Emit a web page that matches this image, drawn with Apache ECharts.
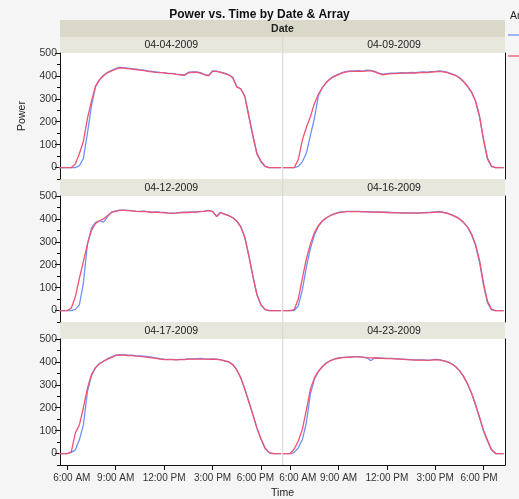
<!DOCTYPE html>
<html style="height: 100%">
<head>
    <meta charset="utf-8">
</head>
<body style="height: 100%; margin: 0; background: #f5f5f5">
<div id="container" style="width: 519px; height: 499px"></div>
<script type="text/javascript" src="https://cdn.jsdelivr.net/npm/echarts@6/dist/echarts.min.js"></script>
<script type="text/javascript">
// sample times (every 15 min)
var times = ['5:30','5:45','6:00','6:15','6:30','6:45','7:00','7:15','7:30','7:45',
    '8:00','8:15','8:30','8:45','9:00','9:15','9:30','9:45','10:00','10:15',
    '10:30','10:45','11:00','11:15','11:30','11:45','12:00','12:15','12:30','12:45',
    '13:00','13:15','13:30','13:45','14:00','14:15','14:30','14:45','15:00','15:15',
    '15:30','15:45','16:00','16:15','16:30','16:45','17:00','17:15','17:30','17:45',
    '18:00','18:15','18:30','18:45','19:00','19:15'];

var dates = ['04-04-2009', '04-09-2009', '04-12-2009', '04-16-2009', '04-17-2009', '04-23-2009'];

// power per date, blue array (b) and red array (r)
var d1b = [0,0,0,0, 0,8,40,150,270,352, 384,403,416,424,432,437, 436,434,432,430,427,425, 422,420,417,415,414,411, 411,408,406,404,416,418, 418,414,407,402,422,421, 417,412,406,394,354,344, 312,222,135,58,24,4, 0,0,0,0];
var d1r = [0,0,0,0, 15,60,115,215,290,355, 383,402,414,422,430,435, 434,432,430,428,425,423, 420,418,415,414,413,410, 410,407,405,402,413,415, 416,412,405,400,420,420, 415,410,404,392,352,343, 310,225,140,62,28,6, 0,0,0,0];
var d2b = [0,0,0,0, 5,25,62,140,215,315, 350,373,389,400,408,415, 420,422,422,423,421,425, 424,420,412,408,410,412, 412,413,414,413,415,414, 416,417,416,419,420,422, 420,416,410,404,393,377, 356,330,290,222,118,36, 4,0,0,0];
var d2r = [0,0,0,0, 35,120,175,222,280,320, 350,372,388,398,406,413, 418,420,420,421,420,422, 422,418,410,405,408,410, 410,411,412,412,413,412, 414,415,414,417,418,420, 418,414,408,402,392,376, 355,330,292,225,125,40, 5,0,0,0];
var d3b = [0,0,0,0, 5,25,120,290,360,385, 392,386,410,430,435,438, 438,437,436,434,433,434, 432,429,431,429,428,426, 425,426,428,429,429,431, 431,433,434,437,433,412, 429,421,415,406,391,366, 318,238,148,68,24,4, 0,0,0,0];
var d3r = [0,0,0,10, 60,140,215,290,350,380, 392,400,415,428,433,437, 437,436,435,433,432,433, 431,428,430,428,427,425, 424,425,427,428,428,430, 430,432,433,436,432,410, 428,420,414,405,390,365, 320,240,150,70,25,5, 0,0,0,0];
var d4b = [0,0,0,0, 20,90,190,270,330,368, 390,404,415,423,428,431, 433,433,433,433,432,432, 431,431,431,430,429,428, 427,427,426,426,426,426, 426,427,428,429,431,432, 429,425,419,411,401,386, 364,332,285,212,110,33, 3,0,0,0];
var d4r = [0,0,0,5, 50,140,225,290,340,372, 392,405,415,422,427,430, 432,432,432,432,431,431, 430,430,430,429,428,427, 426,426,425,425,425,425, 425,426,427,428,430,431, 428,424,418,410,400,385, 365,335,290,220,120,40, 5,0,0,0];
var d5b = [0,0,0,5, 15,60,125,270,340,375, 393,404,414,422,430,432, 431,430,429,427,426,425, 423,421,417,414,412,411, 411,410,411,411,413,413, 414,415,413,412,413,412, 410,405,401,389,366,331, 282,226,170,110,62,22, 4,0,0,0];
var d5r = [0,0,0,7, 90,125,200,285,345,375, 392,403,412,420,428,430, 430,428,427,425,424,422, 420,418,415,412,410,410, 410,409,410,410,412,412, 412,412,412,411,412,411, 409,404,400,388,365,330, 280,225,170,112,65,25, 5,0,0,0];
var d6b = [0,0,0,5, 25,60,135,260,325,358, 380,396,406,413,418,420, 421,422,423,423,421,419, 405,418,417,416,415,415, 414,413,412,411,410,409, 409,409,408,409,411,410, 406,401,393,381,363,338, 305,264,212,156,98,54, 15,0,0,0];
var d6r = [0,0,0,20, 55,105,190,280,330,360, 380,395,405,412,416,419, 420,421,422,422,420,418, 418,417,416,415,414,414, 413,412,411,410,409,408, 408,408,407,408,410,409, 405,400,392,380,362,338, 305,265,215,160,102,58, 18,0,0,0];

var timeTicks = [360, 540, 720, 900, 1080];   // minutes
var powerTicks = [0, 100, 200, 300, 400, 500];
var powerMinor = [-50, 50, 150, 250, 350, 450];

var panels = [[d1b, d1r], [d2b, d2r], [d3b, d3r], [d4b, d4r], [d5b, d5r], [d6b, d6r]];
var colors = ['#6f92f6', '#ef5273'];
var font = 'Liberation Sans, Arial, sans-serif';

var colLeft = [60, 283], colWidth = [222.5, 222];
var rowTop = [53, 196, 339], rowH = 126;

function toMin(s) {
    var p = s.split(':');
    return (+p[0]) * 60 + (+p[1]);
}
function fmtTime(v) {
    var h = Math.floor(v / 60), m = Math.round(v % 60);
    var ap = h < 12 ? 'AM' : 'PM';
    var hh = h % 12;
    if (hh === 0) hh = 12;
    return hh + ':' + (m < 10 ? '0' : '') + m + ' ' + ap;
}
// end labels get nudged inward like the original
function labelFor(col) {
    return function (v) {
        var t = fmtTime(v);
        if (v === timeTicks[0]) return '{' + (col === 0 ? 'l0' : 'l1') + '|' + t + '}';
        if (v === timeTicks[timeTicks.length - 1]) return '{' + (col === 0 ? 'r0' : 'r1') + '|' + t + '}';
        return t;
    };
}
var tickRich = {
    l0: {padding: [0, 0, 0, 9], fontSize: 10, fontFamily: font, color: '#333'},
    l1: {padding: [0, 0, 0, 15], fontSize: 10, fontFamily: font, color: '#333'},
    r0: {padding: [0, 11, 0, 0], fontSize: 10, fontFamily: font, color: '#333'},
    r1: {padding: [0, 9, 0, 0], fontSize: 10, fontFamily: font, color: '#333'}
};

var dom = document.getElementById('container');
var myChart = echarts.init(dom);

var grids = [], xAxes = [], yAxes = [], series = [], minorAxes = [];
var graphic = [];

for (var i = 0; i < 6; i++) {
    var row = Math.floor(i / 2), col = i % 2;
    grids.push({
        left: colLeft[col], top: rowTop[row], width: colWidth[col], height: rowH,
        show: true, backgroundColor: '#fff', borderWidth: 0
    });
    xAxes.push({
        type: 'value', gridIndex: i, min: 333, max: 1160,
        show: row === 2,
        axisLine: {onZero: false, lineStyle: {color: '#111'}},
        axisTick: {customValues: timeTicks, length: 5, lineStyle: {color: '#111'}},
        axisLabel: {customValues: timeTicks, formatter: labelFor(col), rich: tickRich,
            fontSize: 10, color: '#333', margin: 8, fontFamily: font},
        splitLine: {show: false}
    });
    yAxes.push({
        type: 'value', gridIndex: i, min: -50, max: 500,
        position: col === 0 ? 'left' : 'right',
        name: i === 0 ? 'Power' : '',
        nameLocation: 'middle', nameGap: 32,
        nameTextStyle: {fontSize: 10.5, color: '#222', fontFamily: font},
        axisLine: {show: true, onZero: false, lineStyle: {color: '#111'}},
        axisTick: {show: col === 0, customValues: powerTicks, length: 5, lineStyle: {color: '#111'}},
        axisLabel: {show: col === 0, customValues: powerTicks, fontSize: 10.5, color: '#333', margin: 3, fontFamily: font},
        splitLine: {show: false}
    });
    if (col === 0) {
        minorAxes.push({
            type: 'value', gridIndex: i, min: -50, max: 500, position: 'left',
            axisLine: {show: false, onZero: false},
            axisTick: {show: true, customValues: powerMinor, length: 3, lineStyle: {color: '#111'}},
            axisLabel: {show: false},
            splitLine: {show: false}
        });
    }
    for (var s = 0; s < 2; s++) {
        var vals = panels[i][s];
        series.push({
            type: 'line', xAxisIndex: i, yAxisIndex: i,
            data: times.map(function (t, k) { return [toMin(t), vals[k]]; }),
            showSymbol: false, symbol: 'none',
            color: colors[s],
            lineStyle: {width: 1.3, color: colors[s]},
            clip: true
        });
    }
    // date strip
    var stripTop = row === 0 ? 37 : rowTop[row] - 17;
    graphic.push({
        type: 'rect', z: 0,
        shape: {x: colLeft[col], y: stripTop, width: colWidth[col], height: rowTop[row] - stripTop},
        style: {fill: '#e8e7de'}
    });
    graphic.push({
        type: 'text', z: 1,
        x: colLeft[col] + colWidth[col] / 2, y: (stripTop + rowTop[row]) / 2 + 0.5,
        style: {text: dates[i], align: 'center', verticalAlign: 'middle', fontSize: 10.5, fontFamily: font, fill: '#222'}
    });
}

graphic.push({
    type: 'rect', z: 0,
    shape: {x: 60, y: 20, width: 445, height: 17},
    style: {fill: '#d9d8c9'}
});
graphic.push({
    type: 'text', z: 1, x: 282.5, y: 29,
    style: {text: 'Date', align: 'center', verticalAlign: 'middle', fontSize: 10.5, fontWeight: 'bold', fontFamily: font, fill: '#222'}
});
graphic.push({
    type: 'line', z: 50,
    shape: {x1: 282.75, y1: 37, x2: 282.75, y2: 465},
    style: {stroke: '#d4d4d4', lineWidth: 1}
});
graphic.push({
    type: 'text', z: 1, x: 282.5, y: 493,
    style: {text: 'Time', align: 'center', verticalAlign: 'middle', fontSize: 10.5, fontFamily: font, fill: '#222'}
});
// legend (cut off by the window edge)
graphic.push({
    type: 'text', z: 1, x: 510, y: 16,
    style: {text: 'Array', align: 'left', verticalAlign: 'middle', fontSize: 10.5, fontFamily: font, fill: '#222'}
});
graphic.push({
    type: 'line', z: 1, shape: {x1: 508, y1: 35, x2: 530, y2: 35},
    style: {stroke: colors[0], lineWidth: 1.3}
});
graphic.push({
    type: 'line', z: 1, shape: {x1: 508, y1: 56, x2: 530, y2: 56},
    style: {stroke: colors[1], lineWidth: 1.3}
});

var option = {
    animation: false,
    backgroundColor: '#f5f5f5',
    title: {
        text: 'Power vs. Time by Date & Array',
        left: 'center', top: 4,
        textStyle: {fontSize: 12, fontWeight: 'bold', color: '#111', fontFamily: font}
    },
    grid: grids,
    xAxis: xAxes,
    yAxis: yAxes.concat(minorAxes),
    graphic: graphic,
    series: series
};
myChart.setOption(option);
</script>
</body>
</html>
